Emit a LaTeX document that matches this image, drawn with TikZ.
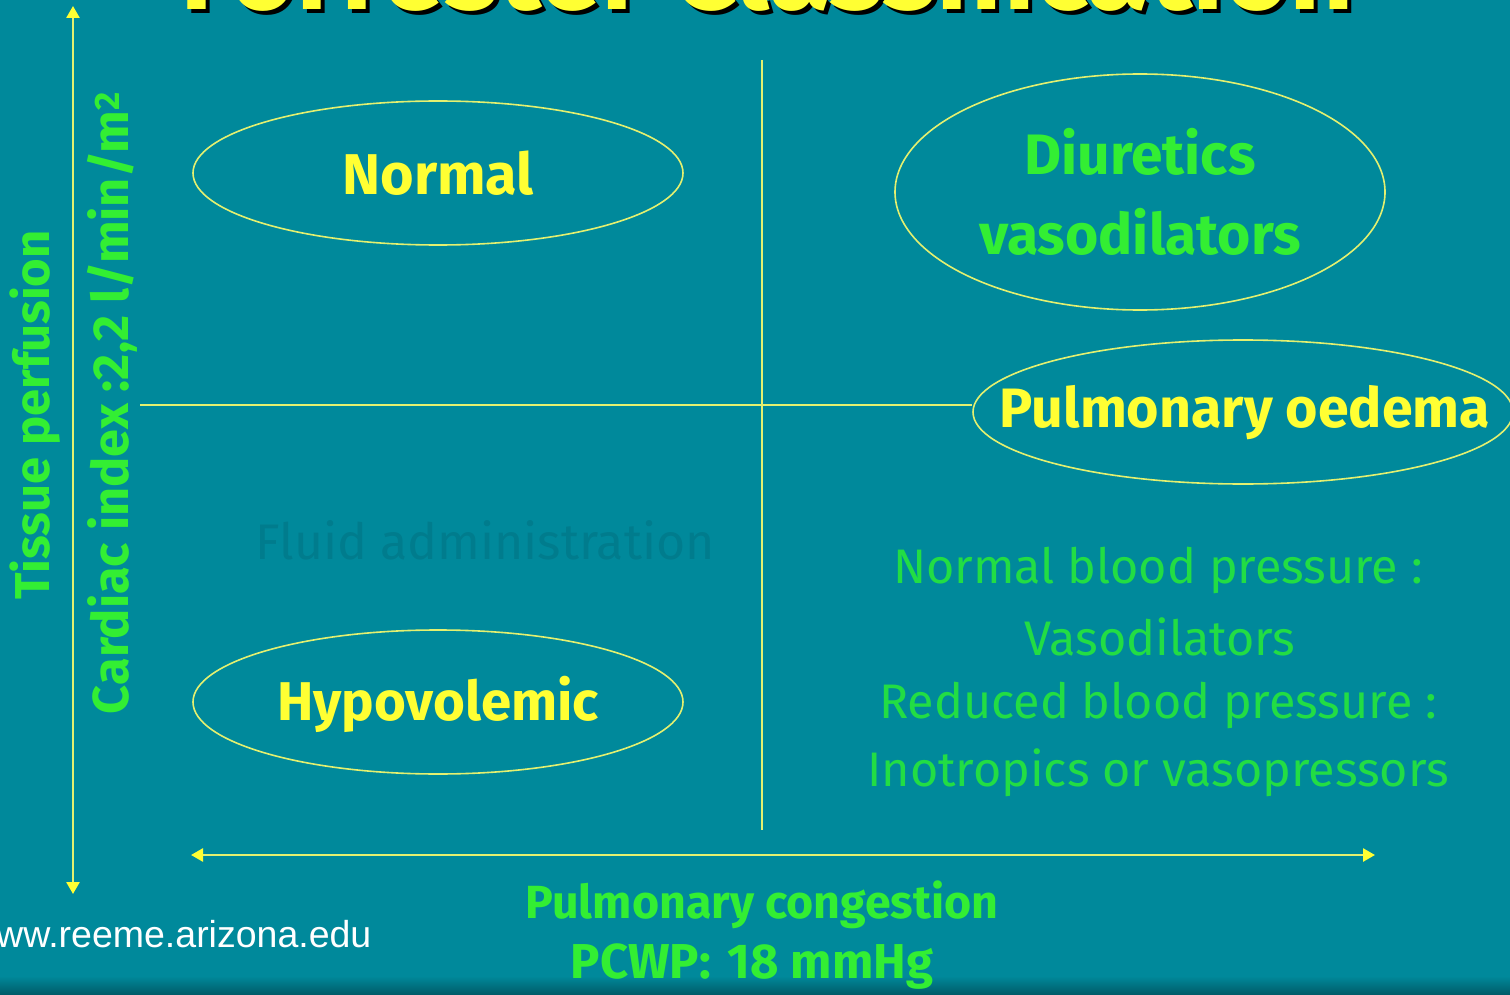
\documentclass[tikz,border=0pt]{standalone}
\usepackage{fontspec}
\setmainfont{Fira Sans}
\newfontfamily\webfont{Liberation Sans}
\usetikzlibrary{arrows.meta,shapes.geometric}
\definecolor{bgteal}{HTML}{00899B}
\definecolor{bgdark}{HTML}{005A66}
\definecolor{faint}{HTML}{007C8D}
\definecolor{ylw}{HTML}{FFFF33}
\definecolor{axisy}{HTML}{E4F070}
\definecolor{grn}{HTML}{33EE33}
\definecolor{grnr}{HTML}{22DD44}
\newcommand{\fsz}[1]{\fontsize{#1}{#1}\selectfont}
\tikzset{
  axisline/.style={draw=axisy, line width=2.6pt, {Triangle[length=12pt,width=13pt,fill=ylw,color=ylw]}-{Triangle[length=12pt,width=13pt,fill=ylw,color=ylw]}},
  crossline/.style={draw=axisy, line width=1.6pt},
  oval/.style={ellipse, draw=axisy, line width=1.6pt, inner sep=0pt},
  ytxt/.style={text=ylw, font=\bfseries\fsz{56}},
  gtxt/.style={text=grn, font=\bfseries\fontsize{57}{80}\selectfont, align=center},
  gregular/.style={text=grnr, font=\fsz{48.5}},
  axtxt/.style={text=grn, font=\bfseries\fsz{46.5}},
}
\begin{document}
\begin{tikzpicture}[x=1pt,y=-1pt]
\fill[bgteal] (0,0) rectangle (1510,995);
\useasboundingbox (0,0) rectangle (1510,995);
\shade[top color=bgteal, bottom color=bgdark] (0,976) rectangle (1510,995);
\begin{scope}
\clip (0,0) rectangle (1510,995);
\node[anchor=base, text=black, font=\bfseries\fsz{112}] (titleshadow) at (771,14) {Forrester Classification};
\node[anchor=base, text=ylw, font=\bfseries\fsz{112}] (title) at (767,10) {Forrester Classification};
\end{scope}
% faint text
\node[text=faint, font=\fsz{50}] (fluid) at (485,540) {Fluid administration};
% axes
\coordinate (vtop) at (73,6);
\coordinate (vbot) at (73,894);
\coordinate (hleft) at (191,855);
\coordinate (hright) at (1375,855);
\draw[axisline] (vtop) -- (vbot);
\draw[axisline] (hleft) -- (hright);
% ellipses
\node[oval, minimum width=490pt, minimum height=144pt] (normal) at (438,173) {};
\node[ytxt, font=\bfseries\fsz{57.5}] (normaltxt) at (normal.center) {Normal};
\node[oval, minimum width=490pt, minimum height=144pt] (hypo) at (438,702) {};
\node[ytxt, font=\bfseries\fsz{54.6}] (hypotxt) at (438,704) {Hypovolemic};
\node[oval, minimum width=490pt, minimum height=236pt] (diur) at (1140,192) {};
\node[gtxt] (diurtxt) at (diur.center) {Diuretics\\vasodilators};
\node[oval, minimum width=540pt, minimum height=144pt] (pulm) at (1243,412) {};
\node[ytxt, font=\bfseries\fsz{55.5}] (pulmtxt) at (1245,413) {Pulmonary oedema};
% cross lines
\coordinate (ctop) at (762,60);
\coordinate (cbot) at (762,830);
\coordinate (cleft) at (140,405);
\draw[crossline] (ctop) -- (cbot);
\draw[crossline] (cleft) -- (cleft -| pulm.west);
% right lower text
\node[gregular] (t1) at (1158,570) {Normal blood pressure :};
\node[gregular] (t2) at (1160,637) {Vasodilators};
\node[gregular] (t3) at (1158,705) {Reduced blood pressure :};
\node[gregular] (t4) at (1158,773) {Inotropics or vasopressors};
% axis labels
\node[axtxt] (xl1) at (762,905) {Pulmonary congestion};
\node[axtxt, font=\bfseries\fsz{49}] (xl2) at (752,967) {PCWP:\hspace{0.35em}18 mmHg};
\node[axtxt, font=\bfseries\fsz{49}, rotate=90] (yl1) at (35,415) {Tissue perfusion};
\node[axtxt, font=\bfseries\fsz{50.5}, rotate=90] (yl2) at (112,403) {Cardiac index :2,2 l/min/m\textsuperscript{2}};
% web
\node[anchor=base west, text=white, font=\webfont\fsz{37.5}, inner sep=0pt] (web) at (-4,947) {ww.reeme.arizona.edu};
\end{tikzpicture}
\end{document}
